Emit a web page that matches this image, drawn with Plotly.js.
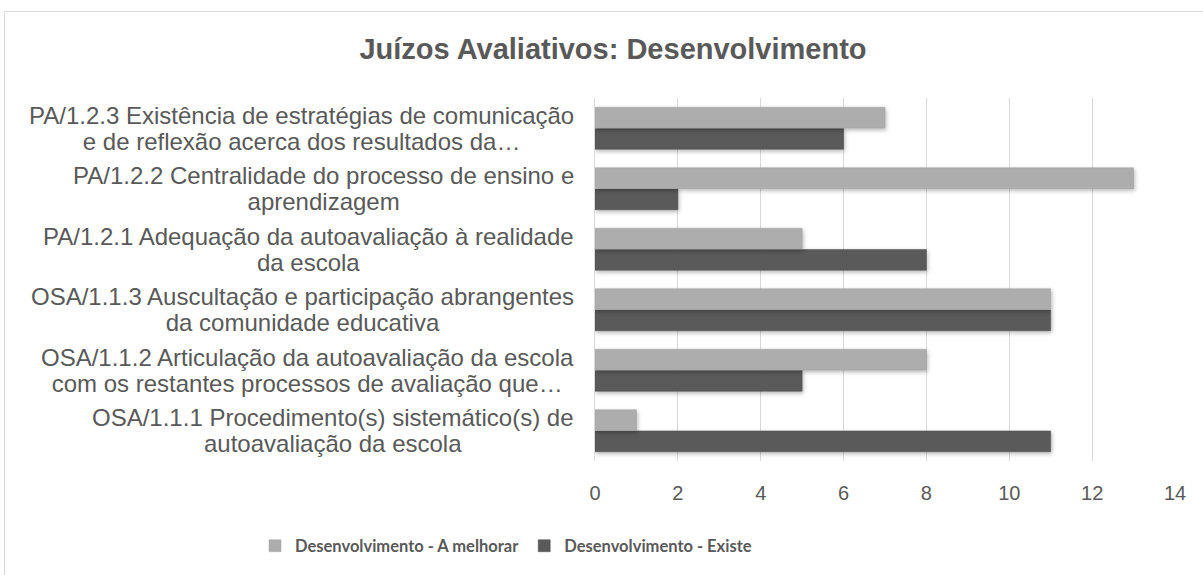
<!DOCTYPE html>
<html>
<head>
<meta charset="utf-8">
<script src="https://cdn.plot.ly/plotly-3.0.1.min.js"></script>
<style>
  html, body { margin: 0; padding: 0; background: #ffffff; }
  #frame { position: absolute; left: 4px; top: 11px; width: 1220px; height: 600px; border: 1px solid #d9d9d9; box-sizing: border-box; }
  #chart { position: absolute; left: 0; top: 0; width: 1203px; height: 575px; }
  #chart .bars .point path { filter: drop-shadow(1px 2px 2px rgba(0,0,0,0.28)); }
</style>
</head>
<body>
<div id="frame"></div>
<div id="chart"></div>
<script>
// Categories listed bottom to top (two text lines each)
const categoryLine1 = [
  "OSA/1.1.1 Procedimento(s) sistemático(s) de",
  "OSA/1.1.2 Articulação da autoavaliação da escola",
  "OSA/1.1.3 Auscultação e participação abrangentes",
  "PA/1.2.1 Adequação da autoavaliação à realidade",
  "PA/1.2.2 Centralidade do processo de ensino e",
  "PA/1.2.3 Existência de estratégias de comunicação"
];
const categoryLine2 = [
  "autoavaliação da escola",
  "com os restantes processos de avaliação que…",
  "da comunidade educativa",
  "da escola",
  "aprendizagem",
  "e de reflexão acerca dos resultados da…"
];
const categoryKeys = ["OSA/1.1.1", "OSA/1.1.2", "OSA/1.1.3", "PA/1.2.1", "PA/1.2.2", "PA/1.2.3"];
const seriesNames = ["Desenvolvimento - A melhorar", "Desenvolvimento - Existe"];
const aMelhorar = [1, 8, 11, 5, 13, 7];
const existe = [11, 5, 11, 8, 2, 6];
const xTicks = [0, 2, 4, 6, 8, 10, 12, 14];

const textColor = "#595959";
const W = 1203, H = 575;
const L = 595, R = 28, T = 98, B = 114;
const labelSize = 24;       // glyph size of category labels
const labelLineGap = 25.5;  // distance between the two lines

const traces = [
  {
    type: "bar", orientation: "h", name: seriesNames[1],
    y: categoryKeys, x: existe,
    marker: { color: "#5a5a5a", line: { color: "#4e4e4e", width: 0.5 } },
    hoverinfo: "x+name"
  },
  {
    type: "bar", orientation: "h", name: seriesNames[0],
    y: categoryKeys, x: aMelhorar,
    marker: { color: "#adadad", line: { color: "#a2a2a2", width: 0.5 } },
    hoverinfo: "x+name"
  }
];

const annotations = categoryKeys.map((k, i) => ({
  xref: "paper", yref: "y",
  x: (576 - L) / (W - L - R), y: k,
  xanchor: "right", yanchor: "middle",
  text: '<span style="font-size:' + labelSize + 'px">' + categoryLine1[i] + '</span><br>' +
        '<span style="font-size:' + labelSize + 'px">' + categoryLine2[i] + '</span>',
  align: "center", showarrow: false,
  font: { family: "Liberation Sans, Arial, sans-serif", size: labelLineGap / 1.3, color: textColor }
}));

const layout = {
  width: W, height: H,
  margin: { l: L, r: R, t: T, b: B, pad: 0 },
  paper_bgcolor: "rgba(0,0,0,0)",
  plot_bgcolor: "rgba(0,0,0,0)",
  barmode: "group",
  bargap: 0.3,
  bargroupgap: 0.02,
  title: {
    text: "<b>Juízos Avaliativos: Desenvolvimento</b>",
    font: { family: "Liberation Sans, Arial, sans-serif", size: 29, color: textColor },
    x: 613 / W, xanchor: "center", xref: "container",
    y: 1 - 49 / H, yanchor: "middle", yref: "container"
  },
  xaxis: {
    range: [0, 14], tickvals: xTicks, ticktext: xTicks.map(String),
    showgrid: true, gridcolor: "#d9d9d9", gridwidth: 1,
    zeroline: false, showline: false, ticks: "",
    ticklabelstandoff: 18,
    tickfont: { family: "Liberation Sans, Arial, sans-serif", size: 20, color: textColor },
    fixedrange: true
  },
  yaxis: {
    type: "category", categoryorder: "array", categoryarray: categoryKeys,
    showticklabels: false, showgrid: false, zeroline: false,
    showline: true, linecolor: "#d9d9d9", linewidth: 1,
    fixedrange: true
  },
  legend: {
    orientation: "h", traceorder: "reversed",
    xref: "container", yref: "container",
    x: 506 / W, xanchor: "center", y: 1 - 546 / H, yanchor: "middle",
    font: { family: "Lato, Open Sans, sans-serif", size: 16.5, color: textColor, weight: "bold" },
    itemwidth: 30
  },
  annotations: annotations,
  showlegend: true
};

Plotly.newPlot("chart", traces, layout, { displayModeBar: false, staticPlot: true });
</script>
</body>
</html>
